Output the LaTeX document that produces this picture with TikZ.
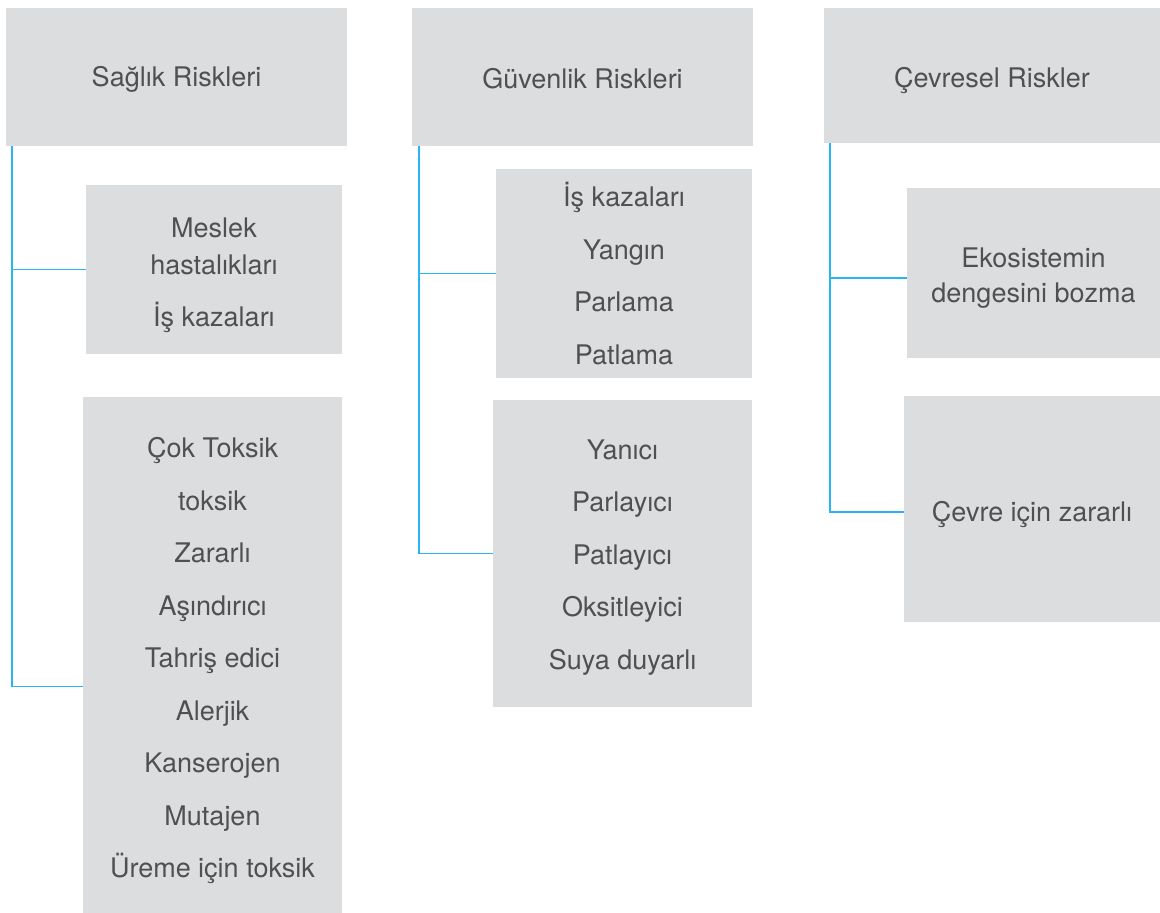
\documentclass[tikz,border=0pt]{standalone}
\usepackage{fontspec}
\setmainfont{TeX Gyre Heros}
\usepackage{xcolor}
\usetikzlibrary{positioning}
\definecolor{boxgray}{RGB}{220,221,223}
\definecolor{linkblue}{RGB}{41,182,240}
\definecolor{textgray}{RGB}{80,80,80}
\tikzset{riskbox/.style={fill=boxgray, draw=none, inner sep=0pt}}
\tikzset{risktext/.style={inner sep=0pt, text=textgray, align=center, font=\fontsize{27}{52.5}\selectfont}}
\tikzset{link/.style={draw=linkblue, line width=1.5pt}}

\begin{document}
\begin{tikzpicture}[x=1pt, y=-1pt]
    \useasboundingbox (0, 0) rectangle (1160, 913);

    % headers
    \node[riskbox, minimum width=341pt, minimum height=138pt,
        label={[risktext, yshift=-2pt]center:Sağlık Riskleri}] (saglik) at (176.5, 77) {};
    \node[riskbox, minimum width=341pt, minimum height=138pt,
        label={[risktext, yshift=-2pt]center:Güvenlik Riskleri}] (guvenlik) at (582.5, 77) {};
    \node[riskbox, minimum width=336pt, minimum height=135pt,
        label={[risktext, yshift=-5pt]center:Çevresel Riskler}] (cevresel) at (992, 75.5) {};

    % left column
    \node[riskbox, minimum width=256pt, minimum height=169pt,
        label={[risktext, yshift=-6pt]center:{Meslek\\[-15.5pt]hastalıkları\\İş kazaları}}] (meslek) at (214, 269.5) {};
    \node[riskbox, minimum width=259pt, minimum height=516pt,
        label={[risktext, yshift=-6pt]center:{Çok Toksik\\toksik\\Zararlı\\Aşındırıcı\\Tahriş edici\\Alerjik\\Kanserojen\\Mutajen\\Üreme için toksik}}] (kimyasal) at (212.5, 655) {};

    % middle column
    \node[riskbox, minimum width=256pt, minimum height=209pt,
        label={[risktext]center:{İş kazaları\\Yangın\\Parlama\\Patlama}}] (kaza) at (624, 273.5) {};
    \node[riskbox, minimum width=259pt, minimum height=307pt,
        label={[risktext, yshift=-4pt]center:{Yanıcı\\Parlayıcı\\Patlayıcı\\Oksitleyici\\Suya duyarlı}}] (yanici) at (622.5, 553.5) {};

    % right column
    \node[riskbox, minimum width=253pt, minimum height=170pt,
        label={[risktext, yshift=-5.5pt]center:{Ekosistemin\\[-17.5pt]dengesini bozma}}] (ekosistem) at (1033.5, 273) {};
    \node[riskbox, minimum width=256pt, minimum height=226pt,
        label={[risktext, yshift=-6pt]center:Çevre için zararlı}] (cevre) at (1032, 509) {};

    % connectors
    \draw[link] ([xshift=6pt]saglik.south west) |- (meslek.west);
    \draw[link] ([xshift=6pt]saglik.south west) |- ([yshift=-31.5pt]kimyasal.west);
    \draw[link] ([xshift=7pt]guvenlik.south west) |- (kaza.west);
    \draw[link] ([xshift=7pt]guvenlik.south west) |- (yanici.west);
    \draw[link] ([xshift=6pt]cevresel.south west) |- ([yshift=-5pt]ekosistem.west);
    \draw[link] ([xshift=6pt]cevresel.south west) |- ([yshift=-3pt]cevre.west);
\end{tikzpicture}
\end{document}
